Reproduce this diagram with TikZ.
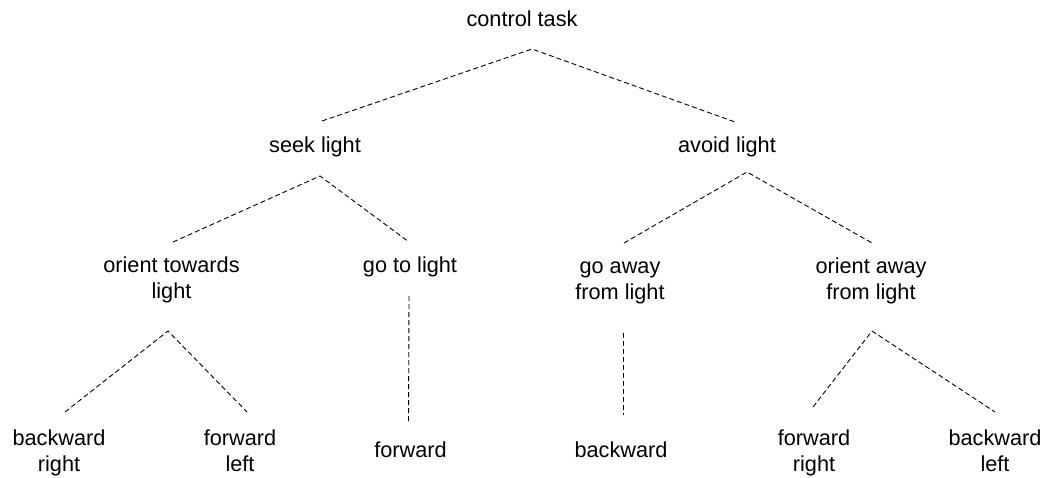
\documentclass[tikz,border=0pt]{standalone}
\usepackage{fontspec}
\setmainfont{Liberation Sans}
\usepackage{tikz}

\tikzset{
	task/.style={inner sep=0pt, anchor=base, align=center, font=\fontsize{21.7}{26}\selectfont},
	link/.style={line width=0.9pt, dash pattern=on 5pt off 3pt}
}

\begin{document}
\begin{tikzpicture}[x=1pt, y=-1pt]
		\useasboundingbox (0,0) rectangle (1045,477);
		% tree levels (base = last line)
		\node[task] (ct) at (522,26) {control task};
		\node[task] (sl) at (315,152) {seek light};
		\node[task] (al) at (727,152) {avoid light};
		\node[task] (otl) at (171.5,298) {orient towards\\light};
		\node[task] (gtl) at (410,272) {go to light};
		\node[task] (gafl) at (620,299) {go away\\from light};
		\node[task] (oafl) at (871,299) {orient away\\from light};
		\node[task] (br) at (59,471) {backward\\right};
		\node[task] (fl) at (240,471) {forward\\left};
		\node[task] (fw) at (410.5,457) {forward};
		\node[task] (bw) at (621,457) {backward};
		\node[task] (fr) at (814,471) {forward\\right};
		\node[task] (bl) at (995,471) {backward\\left};
		% links
		\draw[link] ([shift={(7,-31)}]sl.base) -- ([shift={(10,23)}]ct.base) -- ([shift={(8,-30)}]al.base);
		\draw[link] ([shift={(1.5,-56)}]otl.base) -- ([shift={(5,24)}]sl.base) -- ([shift={(-1,-30)}]gtl.base);
		\draw[link] ([shift={(4,-56)}]gafl.base) -- ([shift={(20,20)}]al.base) -- ([shift={(1,-56)}]oafl.base);
		\draw[link] ([shift={(6,-59)}]br.base) -- ([shift={(-3.5,33)}]otl.base) -- ([shift={(7,-59)}]fl.base);
		\draw[link] ([shift={(-1,24)}]gtl.base) -- ([shift={(-2,-34)}]fw.base);
		\draw[link] ([shift={(3,34)}]gafl.base) -- ([shift={(2,-42)}]bw.base);
		\draw[link] ([shift={(-1,-64)}]fr.base) -- ([shift={(1,32)}]oafl.base) -- ([shift={(0,-59)}]bl.base);
	\end{tikzpicture}
\end{document}
